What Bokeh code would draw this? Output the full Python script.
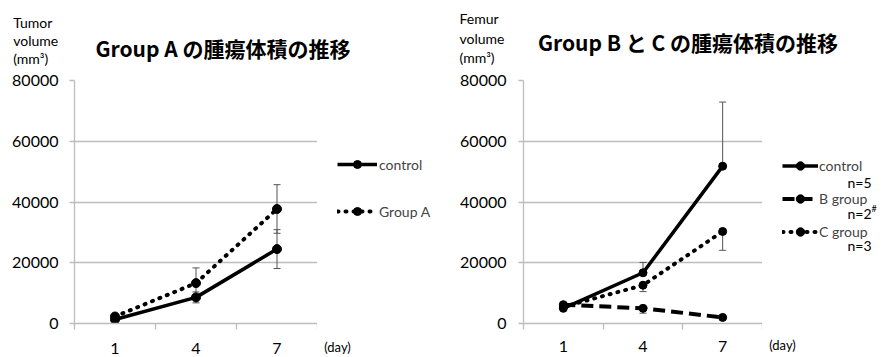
from bokeh.plotting import figure
from bokeh.models import (Range1d, FixedTicker, Label, Legend, LegendItem,
                          Whisker, TeeHead, ColumnDataSource)
from bokeh.layouts import row, column
from bokeh.embed import file_html
from bokeh.resources import INLINE

# ---------------- data ----------------
days = ["1", "4", "7"]
x_unit = "(day)"
y_ticks = [0, 20000, 40000, 60000, 80000]

a_control = [1300, 8600, 24500]
a_control_err = [400, 1800, 6400]
a_groupA = [2300, 13300, 37700]
a_groupA_err = [600, 5000, 8000]

bc_control = [5000, 16700, 51800]
bc_control_err = [900, 3400, 21100]
bc_B = [6200, 5000, 2000]
bc_B_err = [500, 1600, 300]
bc_C = [5500, 12600, 30300]
bc_C_err = [700, 2100, 6200]

left_title = "Group A の腫瘍体積の推移"
right_title = "Group B と C の腫瘍体積の推移"
left_ylabel = ["Tumor", "volume", "(mm³)"]
right_ylabel = ["Femur", "volume", "(mm³)"]
left_series = ["control", "Group A"]
right_series = ["control", "B group", "C group"]
right_n = ["n=5", "n=2", "n=3"]

# ---------------- styling ----------------
TOP = 67          # height of the text strip above the charts
H = 357 - TOP
GRID = "#bdbdbd"
ERR = "#555555"
LATIN = "Lato"
CJK = "Noto Sans CJK JP"
NAN = float("nan")
xs = [i + 0.5 for i in range(len(days))]
YMAX = y_ticks[-1]


def make_fig(W, bl, bt, bb, standoff_x, standoff_y):
    p = figure(width=W, height=H, x_range=Range1d(0, len(days)),
               y_range=Range1d(0, YMAX), output_backend="svg",
               toolbar_location=None, min_border_left=bl, min_border_right=0,
               min_border_top=bt, min_border_bottom=bb)
    p.outline_line_color = None
    p.xgrid.visible = False
    p.ygrid.ticker = FixedTicker(ticks=y_ticks)
    p.ygrid.grid_line_color = GRID
    p.ygrid.grid_line_width = 1.3

    xa = p.xaxis[0]
    xa.ticker = FixedTicker(ticks=xs, minor_ticks=list(range(len(days) + 1)))
    xa.major_label_overrides = {x: d for x, d in zip(xs, days)}
    xa.major_tick_out = 0
    xa.major_tick_in = 0
    xa.minor_tick_out = 6
    xa.minor_tick_in = 0
    xa.minor_tick_line_color = GRID
    xa.minor_tick_line_width = 1.3
    xa.axis_line_color = GRID
    xa.axis_line_width = 1.3
    xa.major_label_standoff = standoff_x
    xa.major_label_text_font = LATIN
    xa.major_label_text_font_size = "16px"
    xa.major_label_text_color = "black"

    ya = p.yaxis[0]
    ya.ticker = FixedTicker(ticks=y_ticks, minor_ticks=[])
    ya.major_tick_out = 5
    ya.major_tick_in = 0
    ya.minor_tick_out = 0
    ya.minor_tick_in = 0
    ya.major_tick_line_color = GRID
    ya.major_tick_line_width = 1.3
    ya.axis_line_color = GRID
    ya.axis_line_width = 1.3
    ya.major_label_standoff = standoff_y
    ya.major_label_text_font = LATIN
    ya.major_label_text_font_size = "16px"
    ya.major_label_text_color = "black"
    return p


def strip_fig(W, Hs):
    """Axis-less figure whose frame is the whole canvas; data units = page px."""
    f = figure(width=W, height=Hs, x_range=Range1d(0, W),
               y_range=Range1d(Hs, 0), x_axis_type=None, y_axis_type=None,
               output_backend="svg", toolbar_location=None,
               min_border_left=0, min_border_right=0,
               min_border_top=0, min_border_bottom=0)
    f.outline_line_color = None
    f.xgrid.visible = False
    f.ygrid.visible = False
    return f


def legend_fig(x0, x1, ftop, fbot, bt, bb, unit_x, standoff):
    """Legend column beside a chart; its frame matches the chart frame rows,
    data units = page px.  Carries the '(day)' caption on its own x-axis."""
    f = figure(width=int(x1 - x0), height=H, x_range=Range1d(x0, x1),
               y_range=Range1d(fbot, ftop), y_axis_type=None,
               output_backend="svg", toolbar_location=None,
               min_border_left=0, min_border_right=0,
               min_border_top=bt, min_border_bottom=bb)
    f.outline_line_color = None
    f.xgrid.visible = False
    f.ygrid.visible = False
    xa = f.xaxis[0]
    xa.ticker = FixedTicker(ticks=[unit_x], minor_ticks=[])
    xa.major_label_overrides = {unit_x: x_unit}
    xa.axis_line_color = None
    xa.major_tick_line_color = None
    xa.minor_tick_line_color = None
    xa.major_tick_out = 0
    xa.major_tick_in = 0
    xa.major_label_standoff = standoff
    xa.major_label_text_font = LATIN
    xa.major_label_text_font_size = "13px"
    xa.major_label_text_color = "black"
    return f


def add_label(f, x, y, text, size, align="left", bold=False, font=LATIN):
    f.add_layout(Label(x=x, y=y, text=text, text_align=align,
                       text_baseline="middle", text_font=font,
                       text_font_size=f"{size}px",
                       text_font_style="bold" if bold else "normal",
                       text_color="black"))


def add_err(p, ys, errs, up=True, down=True):
    lower = [y - e if down else y for y, e in zip(ys, errs)]
    upper = [y + e if up else y for y, e in zip(ys, errs)]
    src = ColumnDataSource(dict(x=xs, lower=lower, upper=upper))
    w = Whisker(source=src, base="x", lower="lower", upper="upper",
                dimension="height", line_color=ERR, line_width=1,
                upper_head=TeeHead(size=7, line_color=ERR, line_width=1) if up else None,
                lower_head=TeeHead(size=7, line_color=ERR, line_width=1) if down else None)
    p.add_layout(w)


def add_series(p, x, ys, dash, size):
    kw = dict(line_color="black", line_width=3.5, line_join="round")
    if dash == "dot":
        kw.update(line_dash="1 7", line_cap="round", line_width=4)
    elif dash == "dash":
        kw.update(line_dash="12 6", line_width=4)
    r1 = p.line(x, ys, **kw)
    r2 = p.scatter(x, ys, size=size, color="black")
    return [r1, r2]


def make_legend(f, names, styles, sizes, loc, gw, lh, sp, standoff):
    items = []
    for name, st, sz in zip(names, styles, sizes):
        # legend keys only: a single NaN point draws nothing in the frame
        rends = add_series(f, [NAN], [NAN], st, sz)
        items.append(LegendItem(label=name, renderers=rends))
    f.add_layout(Legend(items=items, location=loc, glyph_width=gw,
                        glyph_height=lh, label_height=lh, spacing=sp,
                        padding=0, margin=0, label_standoff=standoff,
                        border_line_color=None, background_fill_alpha=0,
                        label_text_font=LATIN, label_text_font_size="14px"))


# ---------------- text strip (titles, y-axis captions) ----------------
strip = strip_fig(884, TOP)
for txt, py in zip(left_ylabel, [21.7, 40, 58]):
    add_label(strip, 12.7, py, txt, 14)
add_label(strip, 222.5, 47.5, left_title, 21, align="center", bold=True, font=CJK)
for txt, py in zip(right_ylabel, [18, 37.7, 56.7]):
    add_label(strip, 459, py, txt, 14)
add_label(strip, 687.5, 41.7, right_title, 21, align="center", bold=True, font=CJK)

# ---------------- left chart ----------------
L_TOP, L_BOT = 80, 324
p1 = make_fig(317, 74, L_TOP - TOP, 357 - L_BOT, 13, 11)
add_err(p1, a_control, a_control_err)
add_err(p1, a_groupA, a_groupA_err)
add_series(p1, xs, a_groupA, "dot", 9)
add_series(p1, xs, a_control, "solid", 9)

lg1 = legend_fig(317, 440, L_TOP, L_BOT, L_TOP - TOP, 357 - L_BOT, 337, 15)
make_legend(lg1, left_series, ["solid", "dot"], [9, 9], (20, L_BOT - 222),
            40, 20, 27, 2)

# ---------------- right chart ----------------
R_TOP, R_BOT = 77, 326
p2 = make_fig(762 - 440, 83, R_TOP - TOP, 357 - R_BOT, 11, 12)
add_err(p2, bc_control, bc_control_err, up=True, down=False)
add_err(p2, bc_B, bc_B_err, up=False, down=True)
add_err(p2, bc_C, bc_C_err, up=False, down=True)
add_series(p2, xs, bc_C, "dot", 8)
add_series(p2, xs, bc_B, "dash", 8)
add_series(p2, xs, bc_control, "solid", 8)

lg2 = legend_fig(762, 884, R_TOP, R_BOT, R_TOP - TOP, 357 - R_BOT, 782, 13)
make_legend(lg2, right_series, ["solid", "dash", "dot"], [7, 8, 8],
            (20, R_BOT - 245), 36, 21, 12, 1)
for n, py in zip(right_n, [181.7, 213, 246]):
    add_label(lg2, 847, py, n, 14)
add_label(lg2, 871, 208, "#", 9)

layout = column(strip, row(p1, lg1, p2, lg2))
open("out.html", "w").write(file_html(layout, INLINE))
